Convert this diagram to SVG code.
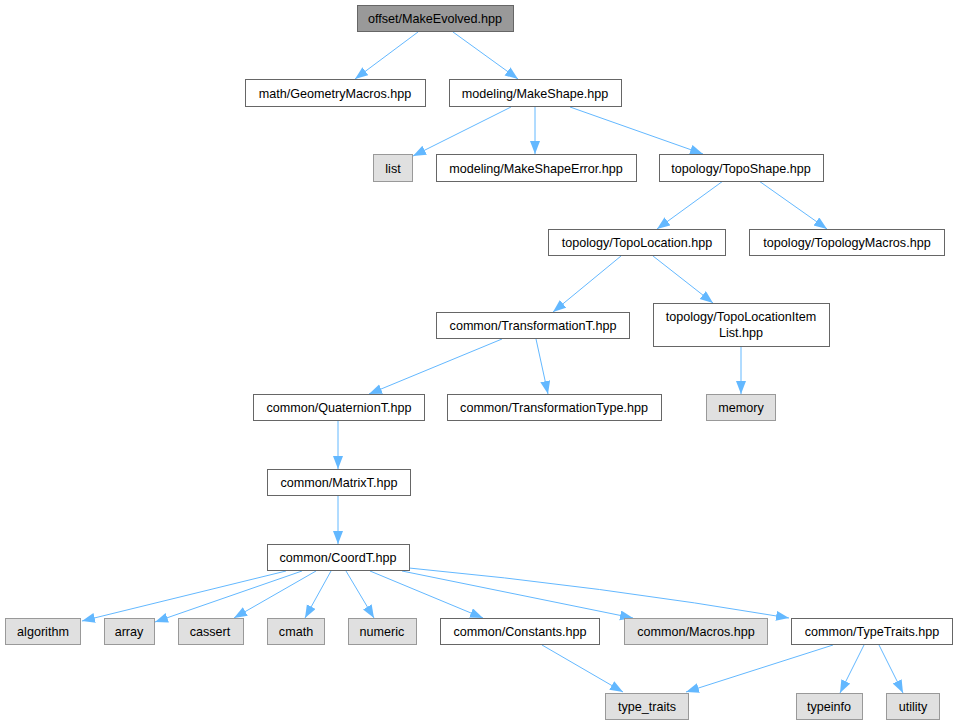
<svg xmlns="http://www.w3.org/2000/svg" width="957" height="725" viewBox="0 0 957 725">
<style>
.n rect{fill:#ffffff;stroke:#666666;stroke-width:1}
.g rect{fill:#e0e0e0;stroke:#999999;stroke-width:1}
.m rect{fill:#999999;stroke:#666666;stroke-width:1}
text{font-family:"Liberation Sans",Arial,sans-serif;font-size:12.6px;fill:#000000;text-anchor:middle}
#edges path{fill:none;stroke:#63b8ff;stroke-width:1;marker-end:url(#ah)}
</style>
<defs>
<marker id="ah" markerUnits="userSpaceOnUse" markerWidth="14" markerHeight="11" refX="13" refY="5" orient="auto">
<path d="M0,0 L13,5 L0,10 z" fill="#63b8ff" stroke="none"/>
</marker>
</defs>
<rect width="957" height="725" fill="#ffffff"/>
<g id="edges">
<path d="M418,32 L355,79"/>
<path d="M453,32 L518,79"/>
<path d="M511,107 L413,156"/>
<path d="M535,107 L535,154"/>
<path d="M570,107 L703,154"/>
<path d="M723,181 L657,229"/>
<path d="M759,181 L827,229"/>
<path d="M621,256 L553,312"/>
<path d="M653,256 L713,303"/>
<path d="M502,339 L369,394"/>
<path d="M536,339 L548,394"/>
<path d="M741,347 L741,394"/>
<path d="M338,421 L338,469"/>
<path d="M338,496 L338,544"/>
<path d="M286,571 L82,621"/>
<path d="M302,571 L155,622"/>
<path d="M316,571 L234,618"/>
<path d="M331,571 L305,618"/>
<path d="M346,571 L374,618"/>
<path d="M370,571 L483,618"/>
<path d="M402,571 L633,618"/>
<path d="M409,568 Q600,586 789,618"/>
<path d="M542,645 L623,692"/>
<path d="M833,645 L686,692"/>
<path d="M864,645 L840,693"/>
<path d="M879,645 L903,693"/>
</g>
<g id="n1" class="m"><rect x="357.5" y="5.5" width="156" height="26"/><text x="435" y="23">offset/MakeEvolved.hpp</text></g>
<g id="n2" class="n"><rect x="245.5" y="79.5" width="180" height="27"/><text x="335" y="97.5">math/GeometryMacros.hpp</text></g>
<g id="n3" class="n"><rect x="449.5" y="79.5" width="172" height="27"/><text x="535" y="97.5">modeling/MakeShape.hpp</text></g>
<g id="n4" class="g"><rect x="373.5" y="154.5" width="39" height="27"/><text x="393" y="172.5">list</text></g>
<g id="n5" class="n"><rect x="436.5" y="154.5" width="200" height="27"/><text x="536" y="172.5">modeling/MakeShapeError.hpp</text></g>
<g id="n6" class="n"><rect x="659.5" y="154.5" width="164" height="27"/><text x="741" y="172.5">topology/TopoShape.hpp</text></g>
<g id="n7" class="n"><rect x="548.5" y="229.5" width="177" height="26"/><text x="637" y="247">topology/TopoLocation.hpp</text></g>
<g id="n8" class="n"><rect x="749.5" y="229.5" width="195" height="26"/><text x="847" y="247">topology/TopologyMacros.hpp</text></g>
<g id="n9" class="n"><rect x="436.5" y="312.5" width="193" height="26"/><text x="533" y="330">common/TransformationT.hpp</text></g>
<g id="n10" class="n"><rect x="653.5" y="303.5" width="176" height="43"/><text x="741" y="321">topology/TopoLocationItem</text><text x="741" y="337">List.hpp</text></g>
<g id="n11" class="n"><rect x="447.5" y="394.5" width="214" height="26"/><text x="554" y="412">common/TransformationType.hpp</text></g>
<g id="n12" class="g"><rect x="706.5" y="394.5" width="69" height="26"/><text x="741" y="412">memory</text></g>
<g id="n13" class="n"><rect x="253.5" y="394.5" width="171" height="26"/><text x="339" y="412">common/QuaternionT.hpp</text></g>
<g id="n14" class="n"><rect x="267.5" y="469.5" width="143" height="26"/><text x="339" y="487">common/MatrixT.hpp</text></g>
<g id="n15" class="n"><rect x="267.5" y="544.5" width="142" height="26"/><text x="338" y="562">common/CoordT.hpp</text></g>
<g id="n16" class="g"><rect x="5.5" y="618.5" width="75" height="26"/><text x="43" y="636">algorithm</text></g>
<g id="n17" class="g"><rect x="104.5" y="618.5" width="50" height="26"/><text x="129" y="636">array</text></g>
<g id="n18" class="g"><rect x="178.5" y="618.5" width="65" height="26"/><text x="210" y="636">cassert</text></g>
<g id="n19" class="g"><rect x="267.5" y="618.5" width="57" height="26"/><text x="296" y="636">cmath</text></g>
<g id="n20" class="g"><rect x="348.5" y="618.5" width="68" height="26"/><text x="382" y="636">numeric</text></g>
<g id="n21" class="n"><rect x="440.5" y="618.5" width="159" height="26"/><text x="520" y="636">common/Constants.hpp</text></g>
<g id="n22" class="g"><rect x="624.5" y="618.5" width="143" height="26"/><text x="696" y="636">common/Macros.hpp</text></g>
<g id="n23" class="n"><rect x="791.5" y="618.5" width="161" height="26"/><text x="872" y="636">common/TypeTraits.hpp</text></g>
<g id="n24" class="g"><rect x="605.5" y="693.5" width="83" height="26"/><text x="647" y="711">type_traits</text></g>
<g id="n25" class="g"><rect x="796.5" y="693.5" width="66" height="26"/><text x="829" y="711">typeinfo</text></g>
<g id="n26" class="g"><rect x="886.5" y="693.5" width="53" height="26"/><text x="913" y="711">utility</text></g>
</svg>
